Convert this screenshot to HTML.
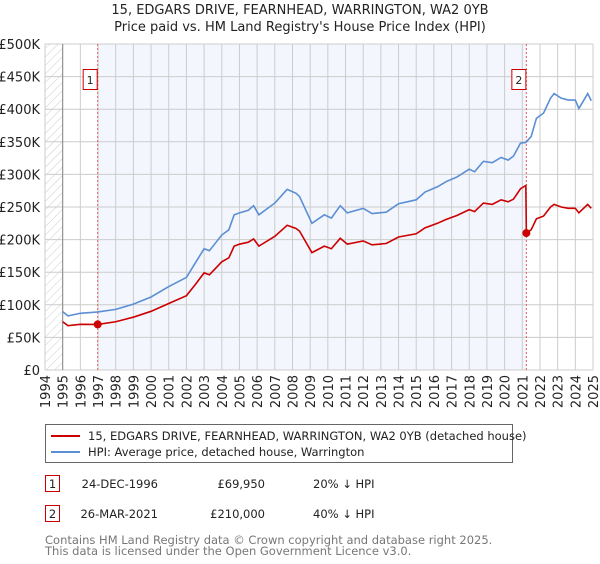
<!DOCTYPE html>
<html><head><meta charset="utf-8"><style>
body{margin:0;background:#fff;font-family:"DejaVu Sans","Liberation Sans",sans-serif;}
svg text{font-family:"DejaVu Sans","Liberation Sans",sans-serif;}
</style></head><body>
<svg id="c" width="600" height="560" xmlns="http://www.w3.org/2000/svg">
<defs><pattern id="hatch" width="6" height="6" patternUnits="userSpaceOnUse" patternTransform="rotate(45)"><line x1="0" y1="0" x2="0" y2="6" stroke="#ccc" stroke-width="1"/></pattern></defs>
<text x="300" y="14" text-anchor="middle" font-size="13" fill="#222">15, EDGARS DRIVE, FEARNHEAD, WARRINGTON, WA2 0YB</text>
<text x="300" y="31" text-anchor="middle" font-size="13" fill="#222">Price paid vs. HM Land Registry's House Price Index (HPI)</text>
<g id="plot"></g>
<g>
<rect x="45.5" y="424.5" width="467" height="38" fill="#fff" stroke="#666"/>
<line x1="51" y1="436" x2="80" y2="436" stroke="#cc0000" stroke-width="2"/>
<text x="88" y="440" font-size="11.5" fill="#222">15, EDGARS DRIVE, FEARNHEAD, WARRINGTON, WA2 0YB (detached house)</text>
<line x1="51" y1="452" x2="80" y2="452" stroke="#5b8fd4" stroke-width="2"/>
<text x="88" y="456" font-size="11.5" fill="#222">HPI: Average price, detached house, Warrington</text>
</g>
<g font-size="11.5" fill="#222">
<rect x="45.5" y="475.5" width="14" height="16" fill="#fff" stroke="#cc0000"/>
<text x="52.5" y="488" text-anchor="middle">1</text>
<text x="158" y="488" text-anchor="end">24-DEC-1996</text>
<text x="265" y="488" text-anchor="end">£69,950</text>
<text x="313" y="488">20% ↓ HPI</text>
<rect x="45.5" y="505.5" width="14" height="16" fill="#fff" stroke="#cc0000"/>
<text x="52.5" y="518" text-anchor="middle">2</text>
<text x="158" y="518" text-anchor="end">26-MAR-2021</text>
<text x="265" y="518" text-anchor="end">£210,000</text>
<text x="313" y="518">40% ↓ HPI</text>
</g>
<text x="45" y="544" font-size="11.5" fill="#777">Contains HM Land Registry data © Crown copyright and database right 2025.</text>
<text x="45" y="555" font-size="11.5" fill="#777">This data is licensed under the Open Government Licence v3.0.</text>
</svg>
<script>
const hpiYears=[1995.0,1995.3,1996,1997,1998,1999,2000,2001,2002,2002.5,2003,2003.3,2004,2004.4,2004.7,2005,2005.5,2005.8,2006.1,2007,2007.7,2008.2,2008.4,2009.1,2009.8,2010.2,2010.7,2011.1,2012,2012.5,2013.3,2014,2015,2015.5,2016.2,2016.7,2017.3,2018,2018.3,2018.8,2019.3,2019.8,2020.2,2020.5,2020.9,2021.2,2021.5,2021.8,2022.2,2022.6,2022.8,2023.2,2023.6,2024,2024.2,2024.7,2024.9];
const hpiValues=[89.5,83,87,89,93,101,112,128,142,164,186,183,207,215,238,241,245,252,238,256,277,271,266,225,238,233,252,241,248,240,242,255,261,273,281,289,296,308,304,320,318,326,322,328,348,349,358,386,394,417,424,417,414,414,401,424,413];
const propYears=[1995.0,1995.3,1996,1996.98,1998,1999,2000,2001,2002,2002.5,2003,2003.3,2004,2004.4,2004.7,2005,2005.5,2005.8,2006.1,2007,2007.7,2008.2,2008.4,2009.1,2009.8,2010.2,2010.7,2011.1,2012,2012.5,2013.3,2014,2015,2015.5,2016.2,2016.7,2017.3,2018,2018.3,2018.8,2019.3,2019.8,2020.2,2020.5,2020.9,2021.2,2021.23,2021.5,2021.8,2022.2,2022.6,2022.8,2023.2,2023.6,2024,2024.2,2024.7,2024.9];
const propValues=[74,68,70,69.95,74,81,90,102,114,131,149,146,166,172,190,193,196,201,190,205,222,217,213,180,190,186,202,193,198,192,194,204,209,218,225,231,237,246,243,256,254,261,258,262,278,283,210,215,232,236,250,254,250,248,248,241,254,248];
const saleYears=[1996.98,2021.23];
const saleValues=[69.95,210];
const saleLabels=["1","2"];
const yTicks=[0,50,100,150,200,250,300,350,400,450,500];
const yTickLabels=["£0","£50K","£100K","£150K","£200K","£250K","£300K","£350K","£400K","£450K","£500K"];
const xTicks=[1994,1995,1996,1997,1998,1999,2000,2001,2002,2003,2004,2005,2006,2007,2008,2009,2010,2011,2012,2013,2014,2015,2016,2017,2018,2019,2020,2021,2022,2023,2024,2025];

const NS="http://www.w3.org/2000/svg";
const L=45,R=593,T=44,B=370,X0=1994,X1=2025,YMAX=500;
const sx=y=>L+(y-X0)/(X1-X0)*(R-L);
const sy=v=>B-v/YMAX*(B-T);
const g=document.getElementById('plot');
function mk(tag,attrs,parent){const e=document.createElementNS(NS,tag);for(const k in attrs)e.setAttribute(k,attrs[k]);(parent||g).appendChild(e);return e;}

let e;
e=mk('rect',{x:L,y:T,width:sx(1995)-L,height:B-T,fill:'url(#hatch)'});


e=mk('rect',{x:sx(saleYears[0]),y:T,width:sx(saleYears[1])-sx(saleYears[0]),height:B-T,fill:'#f3f6fd'});


yTicks.forEach((v,i)=>{
  e=mk('line',{x1:L,x2:R,y1:sy(v),y2:sy(v),stroke:'#ccc','stroke-width':1});
  
  
  e=mk('text',{x:L-5,y:sy(v)+5,'text-anchor':'end','font-size':13,fill:'#222'});
  e.textContent=yTickLabels[i];
  
  
});
xTicks.forEach(y=>{
  e=mk('line',{x1:sx(y),x2:sx(y),y1:T,y2:B,stroke:'#ccc','stroke-width':1});
  
  
  e=mk('text',{x:0,y:0,'text-anchor':'end','font-size':13,fill:'#222',transform:`translate(${sx(y)+5},375) rotate(-90)`});
  e.textContent=y;
  
  
});
e=mk('line',{x1:sx(1995),x2:sx(1995),y1:T,y2:B,stroke:'#888'});


saleYears.forEach((y,i)=>{
  e=mk('line',{x1:sx(y),x2:sx(y),y1:T,y2:B,stroke:'#e06060','stroke-dasharray':'2,2'});
  
  
  e=mk('rect',{x:sx(y)-14.5,y:69.5,width:14,height:20,fill:'#fff',stroke:'#cc0000'});
  
  
  e=mk('text',{x:sx(y)-7.5,y:84,'text-anchor':'middle','font-size':11,fill:'#222'});
  e.textContent=saleLabels[i];
  
  
});
e=mk('polyline',{points:hpiYears.map((y,i)=>sx(y)+','+sy(hpiValues[i])).join(' '),fill:'none',stroke:'#5b8fd4','stroke-width':1.6});


e=mk('polyline',{points:propYears.map((y,i)=>sx(y)+','+sy(propValues[i])).join(' '),fill:'none',stroke:'#cc0000','stroke-width':1.6});


saleYears.forEach((y,i)=>{
  e=mk('circle',{cx:sx(y),cy:sy(saleValues[i]),r:4,fill:'#cc0000'});
  
  
});
</script>
</body></html>
